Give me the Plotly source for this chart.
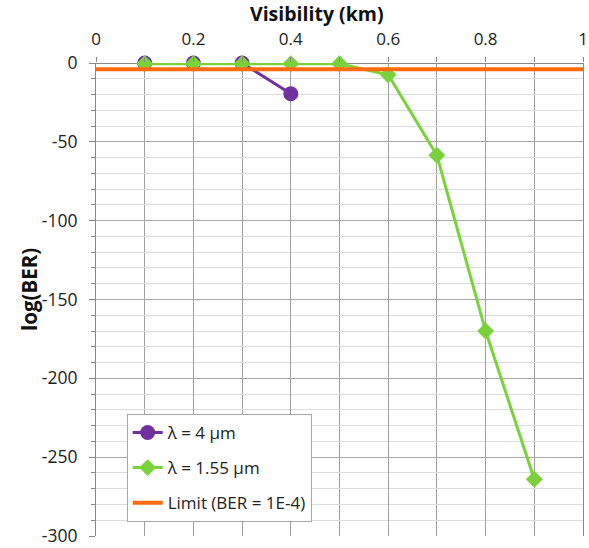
import plotly.graph_objects as go

vis_4um = [0.1, 0.2, 0.3, 0.4]
ber_4um = [0, 0, 0, -19.5]
vis_155 = [0.1, 0.2, 0.3, 0.4, 0.5, 0.6, 0.7, 0.8, 0.9]
ber_155 = [-0.5, -0.5, -0.5, -0.5, -0.5, -7.5, -58.5, -170, -264]
limit_x = [0, 1]
limit_y = [-4, -4]
x_ticks = [0, 0.2, 0.4, 0.6, 0.8, 1]
x_labels = ["0", "0.2", "0.4", "0.6", "0.8", "1"]
y_ticks = [0, -50, -100, -150, -200, -250, -300]
y_labels = ["0", "-50", "-100", "-150", "-200", "-250", "-300"]

FONT = "Open Sans"
fig = go.Figure()
fig.add_trace(go.Scatter(x=vis_4um, y=ber_4um, mode="lines+markers", name="λ = 4 µm",
                         line=dict(color="#7030A0", width=3),
                         marker=dict(symbol="circle", size=15, color="#7030A0"),
                         cliponaxis=False, legendgroup="a"))
fig.add_trace(go.Scatter(x=vis_155, y=ber_155, mode="lines+markers", name="λ = 1.55 µm",
                         line=dict(color="#7AD23A", width=3),
                         marker=dict(symbol="diamond", size=13, color="#7AD23A"),
                         cliponaxis=False, legendgroup="b"))
fig.add_trace(go.Scatter(x=limit_x, y=limit_y, mode="lines", name="Limit (BER = 1E-4)",
                         line=dict(color="#FF6A0D", width=4),
                         cliponaxis=False, legendgroup="c"))

fig.update_layout(
    width=589, height=548,
    margin=dict(l=96, r=6, t=63, b=12),
    paper_bgcolor="white", plot_bgcolor="white",
    font=dict(family=FONT, size=17, color="#222"),
    showlegend=True,
    legend=dict(x=0.063, y=0.258, xanchor="left", yanchor="top",
                bgcolor="white", bordercolor="#A6A6A6", borderwidth=1,
                font=dict(family=FONT, size=17, color="#222"),
                traceorder="grouped", tracegroupgap=10, itemwidth=30),
    xaxis=dict(side="top", range=[0, 1], tickmode="array", tickvals=x_ticks, ticktext=x_labels,
               showgrid=True, gridcolor="#A0A0A0", gridwidth=1, automargin=False,
               minor=dict(dtick=0.1, tick0=0, showgrid=True, gridcolor="#A0A0A0", ticks="outside",
                          ticklen=5, tickcolor="#888"),
               ticks="outside", ticklen=5, tickcolor="#888", ticklabeloverflow="allow",
               ticklabelstandoff=5,
               showline=False, zeroline=False,
               tickfont=dict(size=17, family=FONT, color="#222")),
    yaxis=dict(range=[-300, 0], tickmode="array", tickvals=y_ticks, ticktext=y_labels,
               showgrid=True, gridcolor="#A8A8A8", gridwidth=1, automargin=False,
               minor=dict(dtick=10, tick0=0, showgrid=True, gridcolor="#DCDCDC", ticks="outside",
                          ticklen=4, tickcolor="#888"),
               ticks="outside", ticklen=6, tickcolor="#888", ticklabeloverflow="allow",
               ticklabelstandoff=8,
               showline=True, linecolor="#888", linewidth=1, mirror=True,
               zeroline=True, zerolinecolor="#888", zerolinewidth=1,
               tickfont=dict(size=17.5, family=FONT, color="#222")),
    annotations=[
        dict(text="<b>Visibility (km)</b>", xref="paper", yref="paper", x=(315-96)/483, y=1,
             yshift=50, xanchor="center", yanchor="middle", showarrow=False,
             font=dict(size=19.5, family=FONT, color="#111")),
        dict(text="<b>log(BER)</b>", xref="paper", yref="paper", x=0, xshift=-67,
             y=(536-290)/473, xanchor="center", yanchor="middle", showarrow=False, textangle=-90,
             font=dict(size=20.5, family=FONT, color="#111")),
    ],
)
fig.write_html("out.html")
